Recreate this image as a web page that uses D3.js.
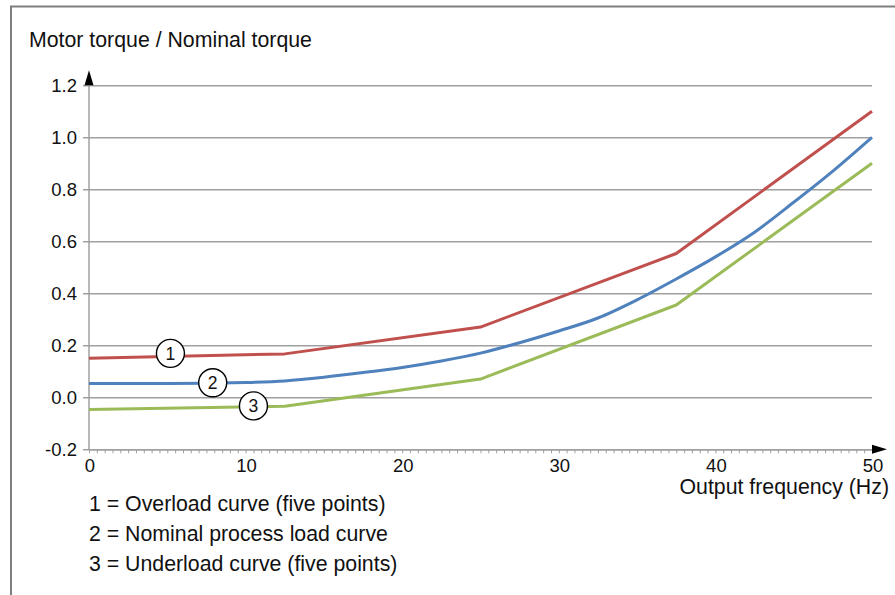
<!DOCTYPE html>
<html>
<head>
<meta charset="utf-8">
<script src="https://cdn.jsdelivr.net/npm/d3@7"></script>
<style>
  html, body { margin: 0; padding: 0; background: #fff; }
  svg { display: block; font-family: "Liberation Sans", Arial, sans-serif; }
</style>
</head>
<body>
<svg id="chart" width="895" height="595"></svg>
<script>
// Output frequency (Hz) of the five curve points
const curveFreq = [0, 12.5, 25, 37.5, 50];
// 1 = overload curve, 3 = underload curve (five points each)
const overload = [0.15, 0.167, 0.27, 0.553, 1.1];
const underload = [-0.047, -0.034, 0.07, 0.355, 0.9];
// 2 = nominal process load curve
const nominalFreq = [0, 5, 10, 12.5, 15, 17.5, 20, 22.5, 25, 27.5, 30, 32.5, 35, 37.5, 40, 42.5, 45, 47.5, 50];
const nominal = [0.053, 0.053, 0.057, 0.063, 0.077, 0.095, 0.115, 0.14, 0.17, 0.21, 0.255, 0.305, 0.375, 0.455, 0.54, 0.635, 0.75, 0.87, 1.0];

// circled curve numbers: [frequency, torque]
const markerNames = ["1", "2", "3"];
const markerFreq = [5.2, 7.9, 10.5];
const markerTorque = [0.169, 0.056, -0.033];

const yTicks = [-0.2, 0.0, 0.2, 0.4, 0.6, 0.8, 1.0, 1.2];
const xTicks = [0, 10, 20, 30, 40, 50];

const legendLines = [
  "1 = Overload curve (five points)",
  "2 = Nominal process load curve",
  "3 = Underload curve (five points)"
];

const svg = d3.select("#chart");

const x = d3.scaleLinear().domain([0, 50]).range([89, 872]);
const y = d3.scaleLinear().domain([-0.2, 1.2]).range([449.3, 85.3]);

const axisGrey = "#a0a0a0";
const bigFont = 21.3;
const tickFont = 18.5;

// frame
svg.append("path")
  .attr("d", "M11,595 L11,6.5 L895,6.5")
  .attr("fill", "none")
  .attr("stroke", "#7f7f7f")
  .attr("stroke-width", 2);

// title
svg.append("text")
  .attr("x", 29).attr("y", 47)
  .attr("font-size", bigFont)
  .attr("fill", "#111")
  .text("Motor torque / Nominal torque");

// horizontal gridlines with short outer ticks and labels
const yAxis = d3.axisLeft(y)
  .tickValues(yTicks)
  .tickSize(-(x(50) - x(0)))
  .tickSizeOuter(0)
  .tickPadding(12)
  .tickFormat(d => d.toFixed(1));

const yg = svg.append("g")
  .attr("transform", `translate(${x(0)},0)`)
  .call(yAxis);
yg.select(".domain").remove();
yg.selectAll(".tick line")
  .attr("x1", -6)
  .attr("stroke", axisGrey)
  .attr("stroke-width", 1.5);
yg.selectAll(".tick text")
  .attr("font-size", tickFont)
  .attr("font-family", "Liberation Sans, Arial, sans-serif")
  .attr("fill", "#111");

// x axis with half-hertz minor ticks
const xMinor = d3.range(0, 50.001, 0.5);
const xg = svg.append("g")
  .attr("transform", `translate(0,${y(-0.2)})`)
  .call(d3.axisBottom(x).tickValues(xMinor).tickSize(4).tickSizeOuter(0).tickFormat(""));
xg.select(".domain").attr("stroke", axisGrey).attr("stroke-width", 1.5);
xg.selectAll(".tick line").attr("stroke", axisGrey).attr("stroke-width", 1);

svg.append("g")
  .selectAll("text")
  .data(xTicks)
  .join("text")
  .attr("x", d => x(d) + 1)
  .attr("y", y(-0.2) + 23)
  .attr("text-anchor", "middle")
  .attr("font-size", tickFont)
  .attr("fill", "#111")
  .text(d => d);

// vertical axis line
svg.append("line")
  .attr("x1", x(0)).attr("x2", x(0))
  .attr("y1", y(-0.2)).attr("y2", y(1.2))
  .attr("stroke", axisGrey).attr("stroke-width", 1.5);

// axis arrows
svg.append("path")
  .attr("d", `M${x(0)},${y(1.2) - 15} L${x(0) - 4.5},${y(1.2)} L${x(0) + 4.5},${y(1.2)} Z`)
  .attr("fill", "#000");
svg.append("path")
  .attr("d", `M${x(50) + 15},${y(-0.2)} L${x(50)},${y(-0.2) - 4.5} L${x(50)},${y(-0.2) + 4.5} Z`)
  .attr("fill", "#000");

// x axis title
svg.append("text")
  .attr("x", 889).attr("y", 494)
  .attr("text-anchor", "end")
  .attr("font-size", bigFont)
  .attr("fill", "#111")
  .text("Output frequency (Hz)");

// curves: the five-point curves are straight segments, the nominal one is smooth
const straight = d3.line().x(d => x(d[0])).y(d => y(d[1]));
const smooth = d3.line().x(d => x(d[0])).y(d => y(d[1])).curve(d3.curveMonotoneX);
const series = [
  { pts: d3.zip(curveFreq, overload), color: "#c0504d", gen: straight },
  { pts: d3.zip(nominalFreq, nominal), color: "#4f81bd", gen: smooth },
  { pts: d3.zip(curveFreq, underload), color: "#9bbb59", gen: straight }
];
svg.append("g")
  .selectAll("path")
  .data(series)
  .join("path")
  .attr("d", d => d.gen(d.pts))
  .attr("fill", "none")
  .attr("stroke", d => d.color)
  .attr("stroke-width", 3)
  .attr("stroke-linejoin", "round");

// circled curve numbers
const markers = svg.append("g")
  .selectAll("g")
  .data(markerNames.map((n, i) => ({ n, f: markerFreq[i], t: markerTorque[i] })))
  .join("g")
  .attr("transform", d => `translate(${x(d.f)},${y(d.t)})`);
markers.append("circle")
  .attr("r", 14)
  .attr("fill", "#fff")
  .attr("stroke", "#000")
  .attr("stroke-width", 1.4);
markers.append("text")
  .attr("text-anchor", "middle")
  .attr("dy", "0.36em")
  .attr("font-size", 17.5)
  .attr("fill", "#111")
  .text(d => d.n);

// legend
svg.append("g")
  .selectAll("text")
  .data(legendLines)
  .join("text")
  .attr("x", 89)
  .attr("y", (d, i) => 510.5 + i * 30)
  .attr("font-size", bigFont)
  .attr("fill", "#111")
  .text(d => d);
</script>
</body>
</html>
